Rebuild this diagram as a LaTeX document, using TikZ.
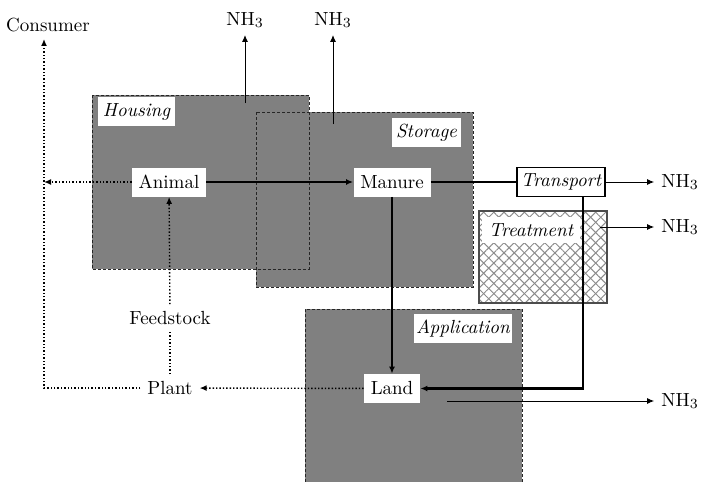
\documentclass[tikz,border=0pt]{standalone}
\usetikzlibrary{positioning,arrows.meta,patterns.meta}

\begin{document}
\begin{tikzpicture}[
  x=0.5pt, y=-0.5pt,
  font=\fontsize{9.5}{11}\selectfont, >={Latex[length=3.5pt,width=3pt]},
  zone/.style={fill=black!50},
  zoneline/.style={draw=black!85,dash pattern=on 1.5pt off 1pt,line width=0.5pt},
  box/.style={fill=white,inner sep=0pt,minimum height=14.5pt},
  tag/.style={box,font=\fontsize{9.5}{11}\selectfont\itshape},
  flow/.style={line width=1.1pt},
  feed/.style={densely dotted,line width=0.7pt},
  emis/.style={line width=0.5pt,->}
]
\useasboundingbox (0,0) rectangle (702,482);
% zones
\fill[zone] (92,95) rectangle (309,269);
\fill[zone] (256,112) rectangle (473,287);
\fill[zone] (305,309) rectangle (522,482);
\draw[zoneline] (92,95) rectangle (309,269);
\draw[zoneline] (256,112) rectangle (473,287);
\draw[zoneline] (305,482) -- (305,309) -- (522,309) -- (522,482);
% treatment
\fill[white] (479,211) rectangle (607,303);
\fill[pattern={Lines[angle=45,distance=3.6pt,line width=0.5pt]},pattern color=black!45] (479,211) rectangle (607,303);
\fill[pattern={Lines[angle=-45,distance=3.6pt,line width=0.5pt]},pattern color=black!45] (479,211) rectangle (607,303);
\draw[black!70,line width=0.7pt] (479,211) rectangle (607,303);

\node[tag,minimum width=38.5pt] (housing) at (136.5,111.5) {Housing};
\node[tag,minimum width=34.5pt] (storage) at (426.5,132.5) {Storage};
\node[tag,minimum width=49pt] (application) at (463,328.5) {Application};
\node[tag,minimum width=49pt,minimum height=13pt] (treatment) at (531,230) {Treatment};

\node[box,minimum width=37pt] (animal) at (169,182) {Animal};
\node[box,minimum width=38.5pt] (manure) at (392,182) {Manure};
\node[box,minimum width=28pt] (land) at (392,388.5) {Land};
\node[tag,draw,line width=0.6pt,minimum width=44pt] (transport) at (561,182) {Transport};
\node (feedstock) at (170,318) {Feedstock};
\node (plant) at (170,388) {Plant};
\node (consumer) at (48,25) {Consumer};

\node (nh3h) at (245,20) {NH$_3$};
\node (nh3s) at (333,20) {NH$_3$};
\node (nh3t) at (680,182) {NH$_3$};
\node (nh3r) at (680,227) {NH$_3$};
\node (nh3l) at (680,401) {NH$_3$};

\coordinate (houseout) at (245,103);
\coordinate (storeout) at (333,124);
\coordinate (treatout) at (600,227);
\coordinate (landout) at (447,401);
\coordinate (junction) at (44,182);
\coordinate (corner) at (44,388);

% manure flow
\draw[flow,->] (animal) -- (manure);
\draw[flow] (manure) -- (transport);
\draw[flow,->] (manure) -- (land);
\draw[flow,->] ([xshift=11pt]transport.south) |- (land.east);

% emissions
\draw[emis] (houseout) -- (nh3h);
\draw[emis] (storeout) -- (nh3s);
\draw[emis] (transport) -- (nh3t);
\draw[emis] (treatout) -- (nh3r);
\draw[emis] (landout) -- (nh3l);

% feed cycle
\draw[feed,->] (animal) -- (junction);
\draw[feed,->] (land) -- (plant);
\draw[feed] (plant) -- (feedstock);
\draw[feed,->] (feedstock) -- (animal);
\draw[feed,->] (plant) -- (corner) -- (corner |- consumer.south);
\end{tikzpicture}
\end{document}
